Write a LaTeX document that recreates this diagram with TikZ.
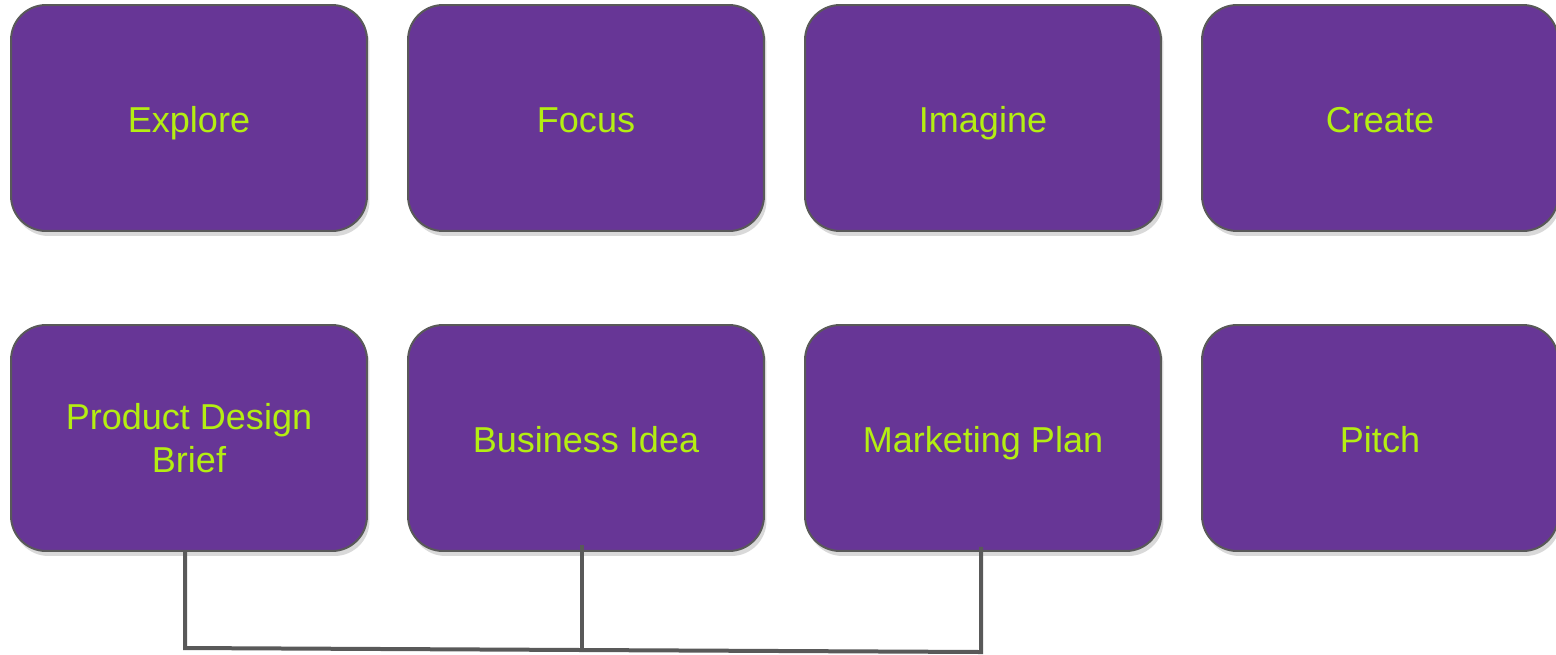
\documentclass[tikz,border=0pt]{standalone}
\usepackage{fontspec}
\setmainfont{Liberation Sans}
\usetikzlibrary{shadows}
\definecolor{boxpurple}{RGB}{103,54,150}
\definecolor{boxlime}{RGB}{180,238,18}
\definecolor{edgegray}{RGB}{89,89,89}
\begin{document}
\begin{tikzpicture}[x=0.02cm,y=-0.02cm,
		stage/.style={draw=edgegray,line width=0.04cm,fill=boxpurple,rounded corners=0.7cm,
			minimum width=7.12cm,minimum height=4.52cm,align=center,text=boxlime,
			font=\fontsize{20.5}{24.5}\selectfont,text height=0.76cm,text depth=0.2cm,
			drop shadow={opacity=0.3,shadow xshift=0.05cm,shadow yshift=-0.1cm}},
		link/.style={draw=edgegray,line width=0.08cm}]
		\useasboundingbox (0,0) rectangle (1556,654);
		\node[stage] (explore) at (189,118) {Explore};
		\node[stage] (focus) at (586,118) {Focus};
		\node[stage] (imagine) at (983,118) {Imagine};
		\node[stage] (create) at (1380,118) {Create};
		\node[stage,text height=,text depth=] (brief) at (189,438) {Product Design\\Brief};
		\node[stage] (idea) at (586,438) {Business Idea};
		\node[stage] (plan) at (983,438) {Marketing Plan};
		\node[stage] (pitch) at (1380,438) {Pitch};
		\coordinate (jl) at (185,648);
		\coordinate (jm) at (582,650);
		\coordinate (jr) at (981,652);
		\draw[link] (brief.south -| jl) -- (jl) -- (jm) -- (jr) -- ([yshift=0.1cm]plan.south -| jr);
		\draw[link] ([yshift=0.14cm]idea.south -| jm) -- (jm);
	\end{tikzpicture}
\end{document}
